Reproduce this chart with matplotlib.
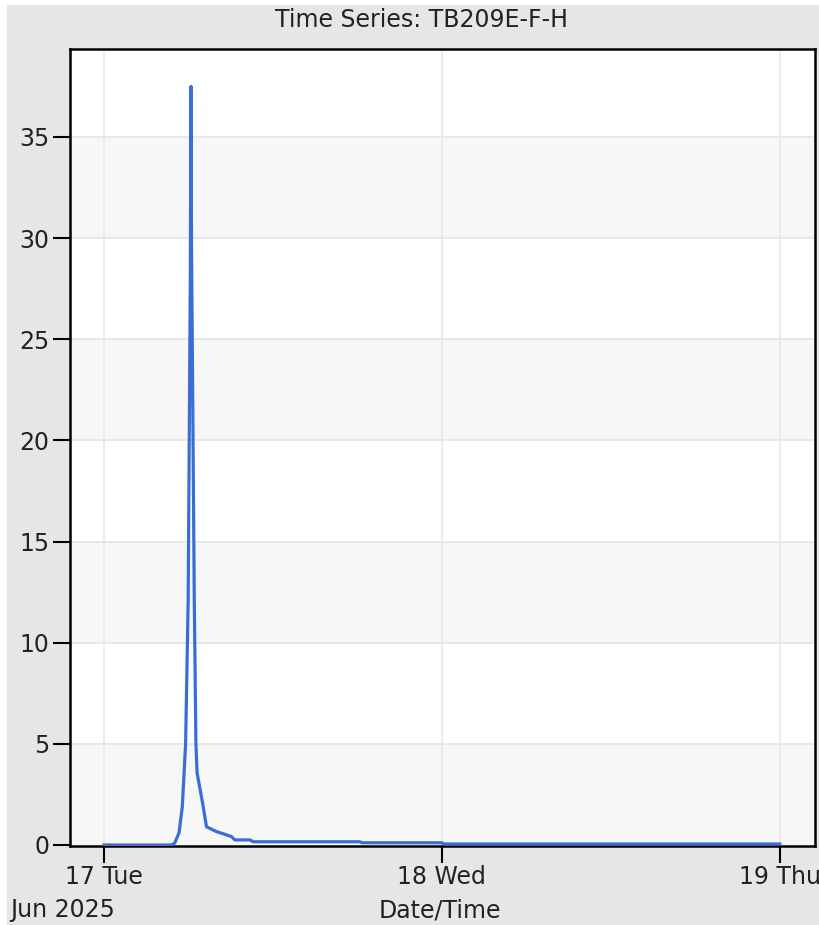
import matplotlib
matplotlib.use("Agg")
import matplotlib.pyplot as plt
import matplotlib.dates as mdates
from matplotlib.patches import Rectangle
import pandas as pd

title = "Time Series: TB209E-F-H"
timestamps = [
    "2025-06-17 00:00", "2025-06-17 04:49", "2025-06-17 05:02", "2025-06-17 05:20",
    "2025-06-17 05:34", "2025-06-17 05:48", "2025-06-17 05:59", "2025-06-17 06:08",
    "2025-06-17 06:11", "2025-06-17 06:13", "2025-06-17 06:25", "2025-06-17 06:32",
    "2025-06-17 06:37", "2025-06-17 06:49", "2025-06-17 07:03", "2025-06-17 07:17",
    "2025-06-17 08:00", "2025-06-17 08:43", "2025-06-17 09:04", "2025-06-17 09:18",
    "2025-06-17 10:22", "2025-06-17 10:36", "2025-06-17 18:11", "2025-06-17 18:19",
    "2025-06-18 00:00", "2025-06-18 00:08", "2025-06-19 00:00",
]
values = [
    0.0, 0.0, 0.1, 0.6, 1.9, 5.0, 12.1, 28.0,
    37.5, 30.0, 12.1, 5.0, 3.56, 2.8, 1.9, 0.9,
    0.66, 0.5, 0.41, 0.25, 0.25, 0.16, 0.16, 0.11,
    0.11, 0.05, 0.05,
]
y_ticks = [0, 5, 10, 15, 20, 25, 30, 35]
x_ticks = ["2025-06-17", "2025-06-18", "2025-06-19"]

plt.rcParams['font.family'] = ['DejaVu Sans']

W, H = 819, 925
fig = plt.figure(figsize=(W / 100, H / 100), dpi=100, facecolor="white")
fig.patches.append(Rectangle((7 / W, 0), 1, 1 - 5 / H, transform=fig.transFigure,
                             facecolor="#e6e6e6", edgecolor="none", zorder=-10))

ax = fig.add_axes([70 / W, (H - 846) / H, (815 - 70) / W, (846 - 49) / H])
ax.set_facecolor("white")

t = pd.to_datetime(timestamps)
xt = pd.to_datetime(x_ticks)

# alternating bands
for i, yv in enumerate(y_ticks):
    if i % 2 == 0:
        ax.axhspan(yv, yv + 5, facecolor="#f7f7f7", edgecolor="none", zorder=0)
for yv in y_ticks[1:]:
    ax.axhline(yv, color="#e4e4e4", lw=1.2, zorder=0.5)
for xv in xt:
    ax.axvline(xv, color="#e8e8e8", lw=1.2, zorder=0.5)

ax.plot(t, values, color="#3a6ed6", lw=2.3, zorder=3, solid_joinstyle="round")

ax.set_ylim(-0.05, 39.35)
ax.set_xlim(pd.Timestamp("2025-06-17") - pd.Timedelta(hours=2.41),
            pd.Timestamp("2025-06-17") + pd.Timedelta(hours=50.5))

ax.set_yticks(y_ticks)
ax.set_xticks(xt)
ax.xaxis.set_major_formatter(mdates.DateFormatter("%d %a"))

ax.tick_params(axis="both", direction="out", length=12, width=1.5, color="black",
               labelsize=17, labelcolor="#222222")
ax.tick_params(axis="y", pad=3)
ax.tick_params(axis="x", pad=2)

for s in ax.spines.values():
    s.set_linewidth(1.8)
    s.set_color("black")

fig.text(422 / W, 1 - 20 / H, title, ha="center", va="center", fontsize=17, color="#222222")
fig.text(10 / W, 1 - 910 / H, "Jun 2025", ha="left", va="center", fontsize=17, color="#222222")
fig.text(440 / W, 1 - 910 / H, "Date/Time", ha="center", va="center", fontsize=17, color="#222222")

fig.savefig("out.png", dpi=100, facecolor=fig.get_facecolor())
